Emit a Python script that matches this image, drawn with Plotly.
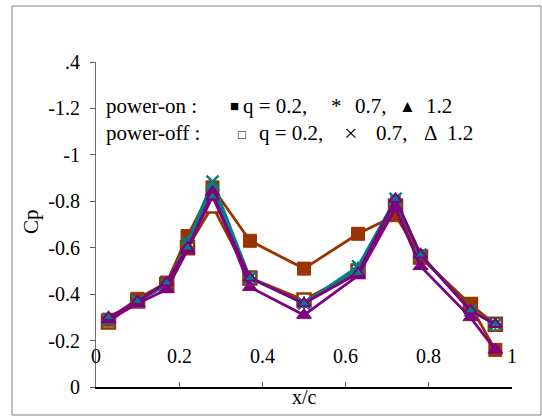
import plotly.graph_objects as go

x_c = [0.03, 0.10, 0.17, 0.22, 0.28, 0.37, 0.50, 0.63, 0.72, 0.78, 0.90, 0.96]

on_q02 = [-0.29, -0.38, -0.45, -0.65, -0.86, -0.63, -0.51, -0.66, -0.74, -0.56, -0.35, -0.16]
on_q07 = [-0.29, -0.37, -0.44, -0.62, -0.85, -0.47, -0.36, -0.51, -0.80, -0.57, -0.33, -0.27]
on_q12 = [-0.29, -0.36, -0.42, -0.59, -0.84, -0.43, -0.31, -0.48, -0.77, -0.52, -0.30, -0.16]
off_q02 = [-0.28, -0.37, -0.44, -0.60, -0.78, -0.47, -0.375, -0.50, -0.78, -0.56, -0.355, -0.27]
off_q07 = [-0.29, -0.37, -0.44, -0.62, -0.885, -0.47, -0.36, -0.52, -0.81, -0.57, -0.33, -0.27]
off_q12 = [-0.30, -0.37, -0.45, -0.60, -0.82, -0.47, -0.36, -0.49, -0.81, -0.57, -0.33, -0.27]

y_tickvals = [0, -0.2, -0.4, -0.6, -0.8, -1.0, -1.2, -1.4]
y_ticktext = ["0", "-0.2", "-0.4", "-0.6", "-0.8", "-1", "-1.2", ".4"]
x_tickvals = [0, 0.2, 0.4, 0.6, 0.8, 1.0]
x_ticktext = ["0", "0.2", "0.4", "0.6", "0.8", "1"]

BROWN = "#993300"
TEAL = "#008080"
PURPLE = "#800080"
FONT = "Liberation Serif"

fig = go.Figure()

series = [
    (off_q02, BROWN, dict(symbol="square", size=13, color="white", line=dict(color=BROWN, width=2.5))),
    (on_q02, BROWN, dict(symbol="square", size=13, color=BROWN, line=dict(color=BROWN, width=1))),
    (on_q07, TEAL, dict(symbol="asterisk-open", size=12, color=TEAL, line=dict(color=TEAL, width=2))),
    (off_q07, TEAL, dict(symbol="x-thin-open", size=12, color=TEAL, line=dict(color=TEAL, width=2.5))),
    (on_q12, PURPLE, dict(symbol="triangle-up", size=13, color=PURPLE, line=dict(color=PURPLE, width=1))),
    (off_q12, PURPLE, dict(symbol="triangle-up", size=11, color=TEAL, line=dict(color=PURPLE, width=2))),
]
for ys, col, mk in series:
    fig.add_trace(go.Scatter(x=x_c, y=ys, mode="lines+markers",
                             line=dict(color=col, width=2.8), marker=mk,
                             showlegend=False, hoverinfo="skip"))

fig.update_layout(
    width=542, height=416,
    margin=dict(l=96, r=30, t=62, b=29),
    paper_bgcolor="white", plot_bgcolor="white",
    font=dict(family=FONT, size=20, color="black"),
    xaxis=dict(range=[0, 1], tickvals=x_tickvals, showticklabels=False,
               ticks="inside", ticklen=5, tickcolor="#606060", tickwidth=1,
               showline=True, linecolor="black", linewidth=1.5,
               showgrid=False, zeroline=False),
    yaxis=dict(range=[0, -1.4], tickvals=y_tickvals, ticktext=y_ticktext,
               ticks="outside", ticklen=5, tickcolor="#606060", tickwidth=1,
               ticklabelstandoff=6,
               showline=True, linecolor="#707070", linewidth=1,
               showgrid=False, zeroline=False,
               tickfont=dict(family=FONT, size=20)),
)

for v, t in zip(x_tickvals, x_ticktext):
    fig.add_annotation(x=v, y=-0.134, xref="x", yref="y", text=t, showarrow=False,
                       xanchor="center", yanchor="middle",
                       font=dict(family=FONT, size=20))

def px_x(px):
    return (px - 96) / 416.0

def px_y(py):
    return (387 - py) / 325.0

fig.add_annotation(x=px_x(31), y=px_y(222), xref="paper", yref="paper", text="Cp",
                   textangle=-90, showarrow=False, xanchor="center", yanchor="middle",
                   font=dict(family=FONT, size=21))
fig.add_annotation(x=px_x(304), y=px_y(397), xref="paper", yref="paper", text="x/c",
                   showarrow=False, xanchor="center", yanchor="middle",
                   font=dict(family=FONT, size=20))

legend_parts = [
    (107, 106, "power-on :", 21),
    (231, 106, "\u25A0", 15),
    (244, 106, "q = 0.2,", 21),
    (332, 106, "*", 21),
    (356, 106, "0.7,", 21),
    (400, 106, "\u25B2", 17),
    (427, 106, "1.2", 21),
    (107, 133, "power-off :", 21),
    (239, 134, "\u25A1", 13),
    (260, 133, "q = 0.2,", 21),
    (345, 133, "\u00D7", 24),
    (377, 133, "0.7,", 21),
    (425, 133, "\u0394", 21),
    (448, 133, "1.2", 21),
]
for lx, ly, t, fs in legend_parts:
    fig.add_annotation(x=px_x(lx), y=px_y(ly), xref="paper", yref="paper", text=t,
                       showarrow=False, xanchor="left", yanchor="middle",
                       xshift=-3, font=dict(family=FONT, size=fs))

fig.add_shape(type="rect", xref="paper", yref="paper",
              x0=px_x(12), x1=px_x(541), y0=px_y(415), y1=px_y(6),
              line=dict(color="#808080", width=1), fillcolor="rgba(0,0,0,0)")

fig.write_html("out.html")
